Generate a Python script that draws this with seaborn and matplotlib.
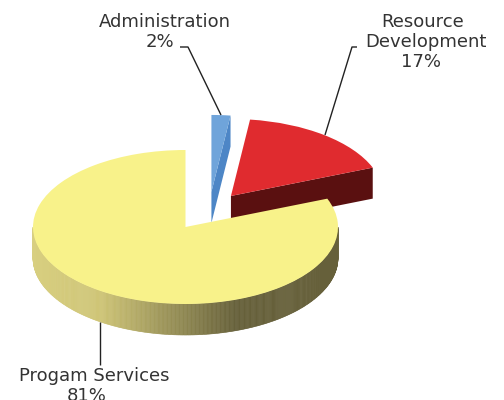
import matplotlib
matplotlib.use('Agg')
import matplotlib.pyplot as plt
import numpy as np
import seaborn as sns

labels = ['Progam Services', 'Resource Development', 'Administration']
shares = [81, 17, 2]
top_colors = ['#f8f28a', '#e02b2f', '#6fa4da']
side_colors = ['#66603a', '#5a1010', '#4d86c6']

# where each slice's tip sits, in radii from the pie centre
offsets = [(0.0, 0.0), (0.298, 0.403), (0.170, 0.455)]

# gradient along the front rim of the big slice
rim_pos = [-1.0, -0.56, 0.34, 1.0]
rim_cols = ['#d8cf80', '#cfc576', '#66603a', '#66603a']

W, H = 504, 400
CX, CY, RX, RY = 185.5, 227, 152.5, 77
DEPTH = 31 / RY

sns.set_theme(style='white')
plt.rcParams['font.family'] = ['DejaVu Sans']


def px(x, y):
    return (x - CX) / RX, (CY - y) / RY


fig = plt.figure(figsize=(W / 100, H / 100), dpi=100)
ax = fig.add_axes([0, 0, 1, 1])

# angles of each slice, counter clockwise from the top
starts = 90 + 3.6 * np.concatenate([[0], np.cumsum(shares)[:-1]])

# cut faces of the two small slices, the edge that looks to the viewer
for i in [1, 2]:
    cx, cy = offsets[i]
    a = np.radians(starts[i] % 360)
    edge_x = [cx, cx + np.cos(a)]
    edge_y = [cy, cy + np.sin(a)]
    ax.fill(edge_x + edge_x[::-1],
            edge_y + [y - DEPTH for y in edge_y[::-1]],
            color=side_colors[i], lw=0, zorder=1)

# rim of the big slice, thin strips so the shade can change
thetas = np.radians(np.linspace(180, 360, 361))
rgb = np.array([matplotlib.colors.to_rgb(c) for c in rim_cols])
for t0, t1 in zip(thetas[:-1], thetas[1:]):
    seg = np.cos([t0, t1])
    low = np.sin([t0, t1])
    col = [np.interp(seg.mean(), rim_pos, rgb[:, k]) for k in range(3)]
    ax.fill(np.r_[seg, seg[::-1]], np.r_[low, (low - DEPTH)[::-1]],
            color=col, lw=0.4, zorder=2)

# top faces
for i, share in enumerate(shares):
    ax.pie([share / 100], colors=[top_colors[i]], startangle=starts[i],
           center=offsets[i], normalize=False, radius=1,
           wedgeprops={'linewidth': 0, 'zorder': 3 if i == 0 else 2.5})

ax.set_aspect('auto')
ax.set_xlim(px(0, 0)[0], px(W, 0)[0])
ax.set_ylim(px(0, H)[1], px(0, 0)[1])
ax.axis('off')

# leader lines
leaders = [
    [(100, 322), (100, 365)],
    [(325, 135), (352, 47), (357, 47)],
    [(221, 115), (188, 47), (180, 47)],
]
for pts in leaders:
    pp = [px(*p) for p in pts]
    ax.plot([p[0] for p in pp], [p[1] for p in pp], color='#222222', lw=1,
            zorder=4, solid_capstyle='butt')

# text
texts = [
    ('Administration', 165, 22), ('2%', 160, 42),
    ('Resource', 423, 22), ('Development', 426, 42), ('17%', 421, 62),
    ('Progam Services', 94, 376), ('81%', 87, 396),
]
for s, x, y in texts:
    tx, ty = px(x, y)
    ax.text(tx, ty, s, ha='center', va='center', fontsize=13,
            color='#333333', clip_on=False)

fig.savefig('out.png', dpi=100)
